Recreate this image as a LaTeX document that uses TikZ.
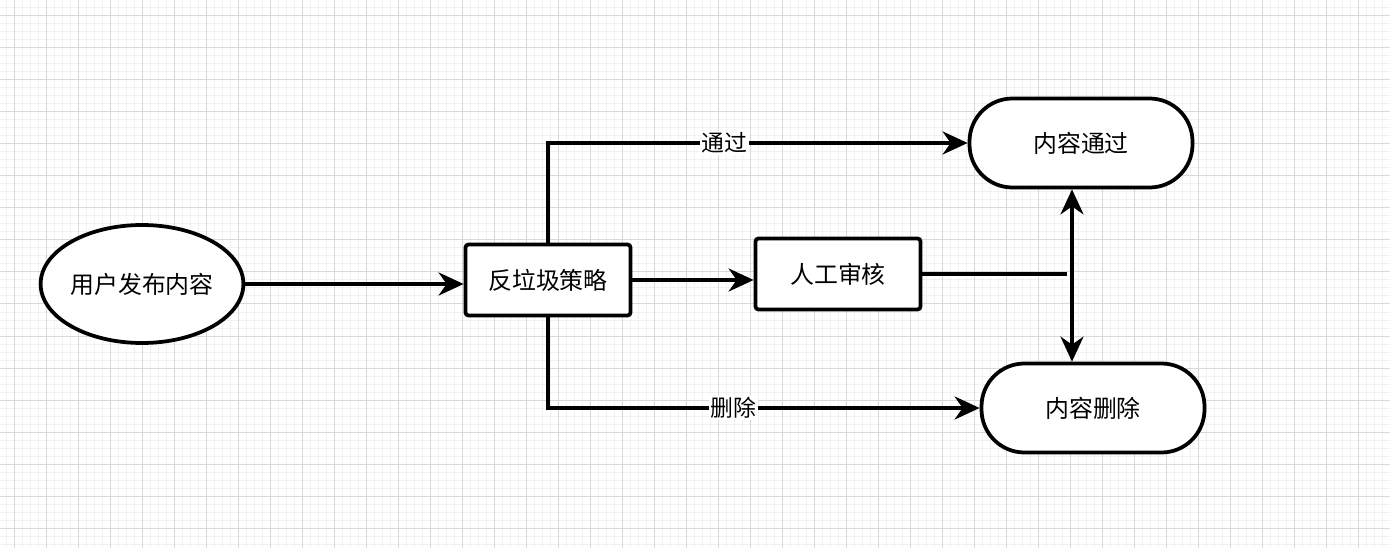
\documentclass[tikz,border=0pt]{standalone}
\usepackage{fontspec}
\newfontfamily\cjk{Noto Sans CJK SC}
\usetikzlibrary{positioning, shapes.geometric, arrows.meta}

\definecolor{minorgray}{HTML}{F1F1F1}
\definecolor{majorgray}{HTML}{D8D8D8}

\tikzset{
	minorgrid/.style={draw=minorgray, line width=0.2mm}
}
\tikzset{
	majorgrid/.style={draw=majorgray, line width=0.2mm}
}

\begin{document}
\begin{tikzpicture}[x=0.2mm, y=-0.2mm]

              \tikzset{
                boxfont/.style={font=\cjk\fontsize{13.6pt}{16pt}\selectfont},
                startnode/.style={
                    shape=ellipse,
                    draw=black,
                    line width=0.75mm,
                    fill=white,
                    minimum width=39.4mm,
                    minimum height=23.6mm,
                    inner sep=0pt,
                    boxfont
                  },
                procnode/.style={
                    shape=rectangle,
                    draw=black,
                    line width=0.75mm,
                    fill=white,
                    rounded corners=0.6mm,
                    minimum width=33mm,
                    minimum height=14.2mm,
                    inner sep=0pt,
                    boxfont
                  },
                endnode/.style={
                    shape=rectangle,
                    draw=black,
                    line width=0.75mm,
                    fill=white,
                    rounded corners=8.6mm,
                    minimum width=44.6mm,
                    minimum height=17.8mm,
                    inner sep=0pt,
                    boxfont
                  },
                flowline/.style={line width=0.7mm, -{Stealth[length=5mm, width=4.6mm, inset=1.6mm]}},
                bothline/.style={line width=0.7mm, {Stealth[length=5mm, width=4.6mm, inset=1.6mm]}-{Stealth[length=5mm, width=4.6mm, inset=1.6mm]}},
                edgelabel/.style={fill=white, inner sep=1pt, font=\cjk\fontsize{13pt}{15pt}\selectfont}
              }

              \useasboundingbox (0,0) rectangle (1390,548);

              % background grid
              \foreach \gx in {6,14,...,1390} \draw[minorgrid] (\gx,0) -- (\gx,548);
              \foreach \gy in {0,8,...,548} \draw[minorgrid] (0,\gy) -- (1390,\gy);
              \foreach \gx in {14,46,...,1390} \draw[majorgrid] (\gx,0) -- (\gx,548);
              \foreach \gy in {16,48,...,548} \draw[majorgrid] (0,\gy) -- (1390,\gy);

              \node[startnode] (post) at (142,284) {用户发布内容};
              \node[procnode] (filter) at (548,280) {反垃圾策略};
              \node[procnode] (review) at (838,274) {人工审核};
              \node[endnode] (pass) at (1081,143) {内容通过};
              \node[endnode] (del) at (1093,408) {内容删除};

              \coordinate (merge) at (1067,274);
              \coordinate (joint) at (1072,274);

              \draw[flowline] (post.east) -- (post.east -| filter.west);
              \draw[flowline] (filter.east) -- (filter.east -| review.west);
              \draw[flowline] (filter.north) |- node[pos=0.71, edgelabel] {通过} (pass.west);
              \draw[flowline] (filter.south) |- node[pos=0.715, edgelabel] {删除} (del.west);
              \draw[line width=0.7mm] (review.east) -- (merge);
              \draw[bothline] (pass.south -| joint) -- (del.north -| joint);
            \end{tikzpicture}
\end{document}
